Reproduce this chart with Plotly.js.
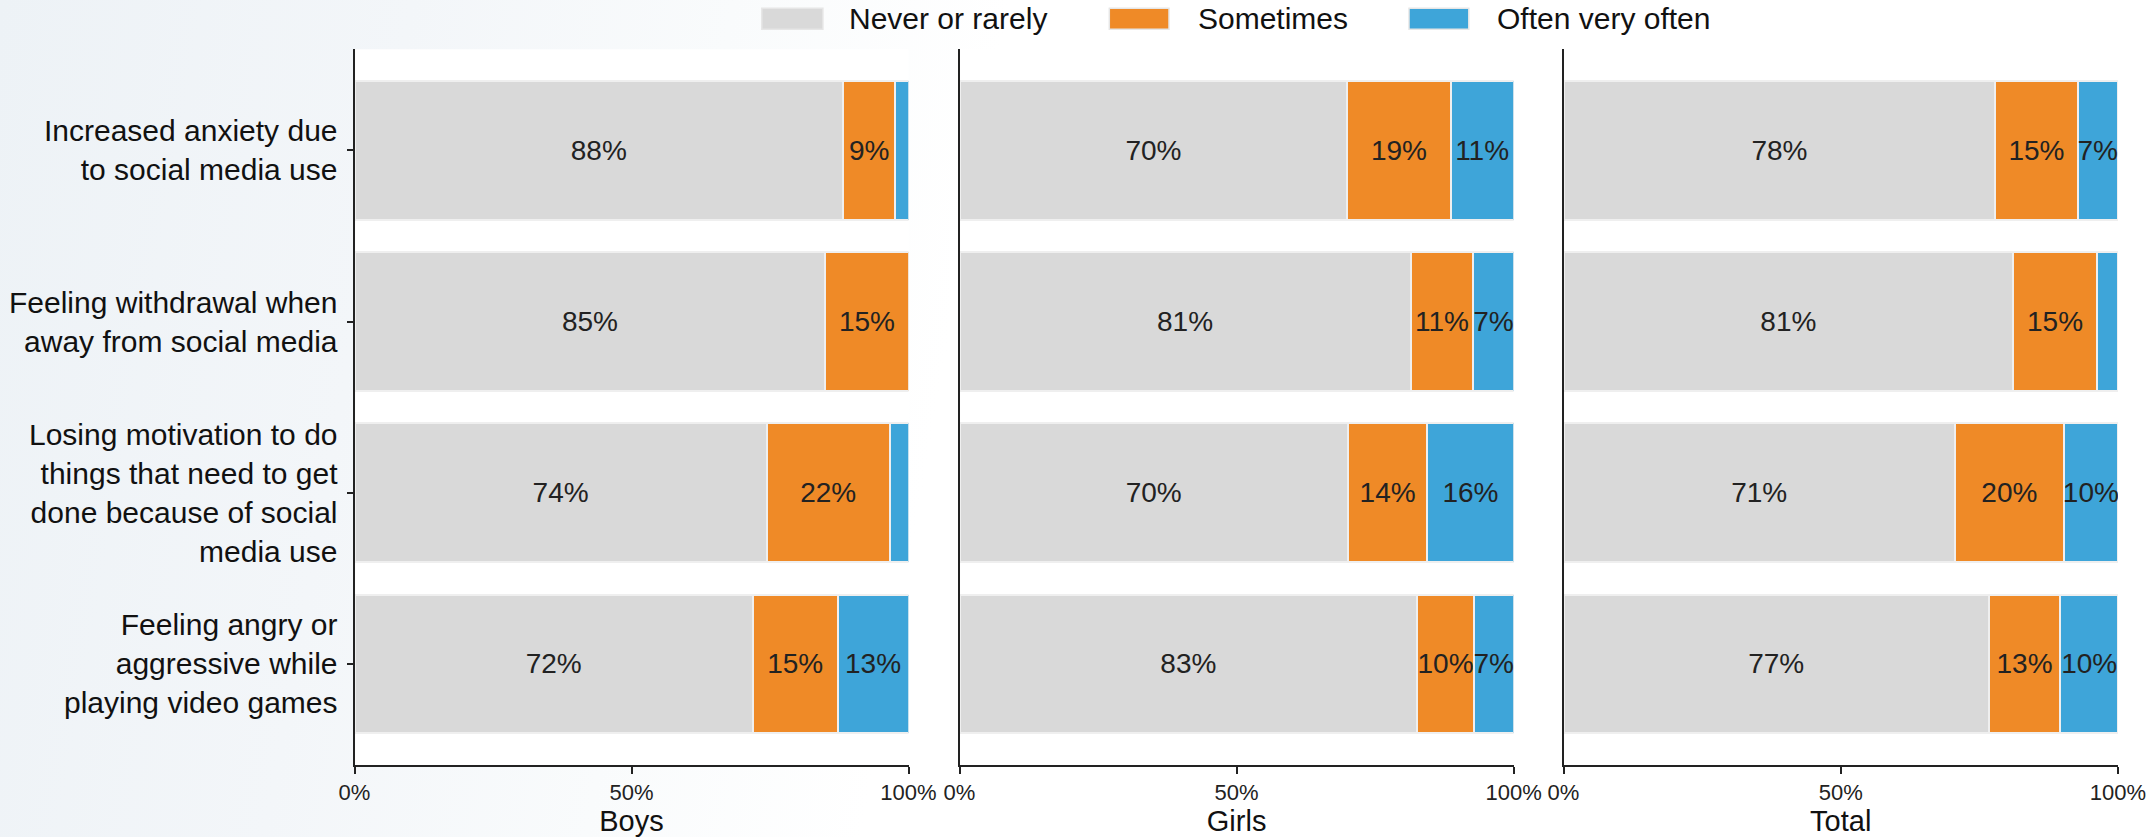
<!DOCTYPE html>
<html>
<head>
<meta charset="utf-8">
<script src="https://cdn.plot.ly/plotly-3.0.1.min.js"></script>
<style>
  html, body { margin: 0; padding: 0; }
  body {
    width: 2146px; height: 837px; overflow: hidden;
    background: linear-gradient(100deg, #edf2f6 0%, #f3f6f9 18%, #f9fbfc 32%, #ffffff 44%);
  }
  #chart { width: 2146px; height: 837px; }
</style>
</head>
<body>
<div id="chart"></div>
<script>
// ---- data ----
const categories = [
  'Increased anxiety due<br>to social media use',
  'Feeling withdrawal when<br>away from social media',
  'Losing motivation to do<br>things that need to get<br>done because of social<br>media use',
  'Feeling angry or<br>aggressive while<br>playing video games'
];
const seriesNames = ['Never or rarely', 'Sometimes', 'Often very often'];
const panelTitles = ['Boys', 'Girls', 'Total'];

const boysNever      = [88.2, 85.0, 74.4, 71.9];
const boysSometimes  = [9.4, 15.0, 22.2, 15.3];
const boysOften      = [2.4, 0.0, 3.4, 12.8];

const girlsNever     = [70.0, 81.4, 70.1, 82.6];
const girlsSometimes = [18.6, 11.3, 14.3, 10.2];
const girlsOften     = [11.4, 7.3, 15.6, 7.2];

const totalNever     = [77.9, 81.1, 70.6, 76.7];
const totalSometimes = [14.8, 15.1, 19.6, 12.9];
const totalOften     = [7.3, 3.8, 9.8, 10.4];

const xTickVals = [0, 50, 100];
const xTickText = ['0%', '50%', '100%'];

// ---- styling ----
const colors = ['#d9d9d9', '#ef8a27', '#3ea5d9'];
const W = 2146, H = 837;
const panelPx = [[354.5, 908.5], [959.5, 1513.7], [1563.5, 2118]];
const plotTop = 49.3, plotBottom = 765;

const panels = [
  [boysNever, boysSometimes, boysOften],
  [girlsNever, girlsSometimes, girlsOften],
  [totalNever, totalSometimes, totalOften]
];

const traces = [];
panels.forEach((series, p) => {
  const ax = p === 0 ? '' : String(p + 1);
  series.forEach((vals, s) => {
    traces.push({
      type: 'bar',
      orientation: 'h',
      name: seriesNames[s],
      x: vals,
      y: categories,
      xaxis: 'x' + ax,
      yaxis: 'y' + ax,
      text: vals.map(v => v >= 5 ? Math.round(v) + '%' : ''),
      textposition: 'inside',
      insidetextanchor: 'middle',
      textangle: 0,
      constraintext: 'none',
      textfont: { family: 'Liberation Sans, Arial, sans-serif', size: 28, color: '#222222' },
      marker: { color: colors[s], line: { color: '#efefef', width: 2 } },
      showlegend: false,
      hovertemplate: '%{y}: %{x:.0f}%<extra>' + seriesNames[s] + '</extra>'
    });
  });
});

const layout = {
  width: W, height: H,
  margin: { l: 0, r: 0, t: 0, b: 0 },
  paper_bgcolor: 'rgba(0,0,0,0)',
  plot_bgcolor: '#ffffff',
  barmode: 'stack',
  bargap: 0.19,
  showlegend: false,
  uniformtext: { mode: 'show', minsize: 28 },
  font: { family: 'Liberation Sans, Arial, sans-serif', color: '#1a1a1a' },
  shapes: [],
  annotations: []
};

const yDomain = [1 - plotBottom / H, 1 - plotTop / H];
panelPx.forEach((px, p) => {
  const ax = p === 0 ? '' : String(p + 1);
  layout['xaxis' + ax] = {
    domain: [px[0] / W, px[1] / W],
    anchor: 'y' + ax,
    range: [0, 100],
    tickvals: xTickVals,
    ticktext: xTickText,
    ticks: 'outside', ticklen: 7, tickwidth: 2, tickcolor: '#222',
    showline: true, linecolor: '#222', linewidth: 2,
    showgrid: false, zeroline: false,
    tickfont: { size: 22, color: '#222' },
    ticklabeloverflow: 'allow',
    title: { text: panelTitles[p], font: { size: 29, color: '#111' }, standoff: 3 },
    automargin: false,
    fixedrange: true
  };
  layout['yaxis' + ax] = {
    domain: yDomain,
    anchor: 'x' + ax,
    type: 'category',
    range: [3.59, -0.59],
    showline: true, linecolor: '#222', linewidth: 2,
    showgrid: false, zeroline: false,
    ticks: p === 0 ? 'outside' : '',
    ticklen: 6, tickwidth: 2, tickcolor: '#222',
    showticklabels: p === 0,
    ticklabelstandoff: 3,
    tickfont: { size: 30, color: '#111' },
    automargin: false,
    fixedrange: true
  };
});

// custom legend (swatches + labels) placed in paper coordinates
const legendItems = [
  { sx: [761.8, 822.9], tx: 847 },
  { sx: [1109.3, 1169.0], tx: 1196 },
  { sx: [1409.0, 1468.8], tx: 1495 }
];
legendItems.forEach((it, i) => {
  layout.shapes.push({
    type: 'rect', xref: 'paper', yref: 'paper',
    x0: it.sx[0] / W, x1: it.sx[1] / W,
    y0: 1 - 29.3 / H, y1: 1 - 8.3 / H,
    fillcolor: colors[i], line: { color: '#e6e6e6', width: 1.5 }
  });
  layout.annotations.push({
    xref: 'paper', yref: 'paper',
    x: it.tx / W, y: 1 - 18.5 / H,
    xanchor: 'left', yanchor: 'middle',
    text: seriesNames[i], showarrow: false,
    font: { size: 30, color: '#111' }
  });
});

Plotly.newPlot('chart', traces, layout, { displayModeBar: false, staticPlot: true });
</script>
</body>
</html>
